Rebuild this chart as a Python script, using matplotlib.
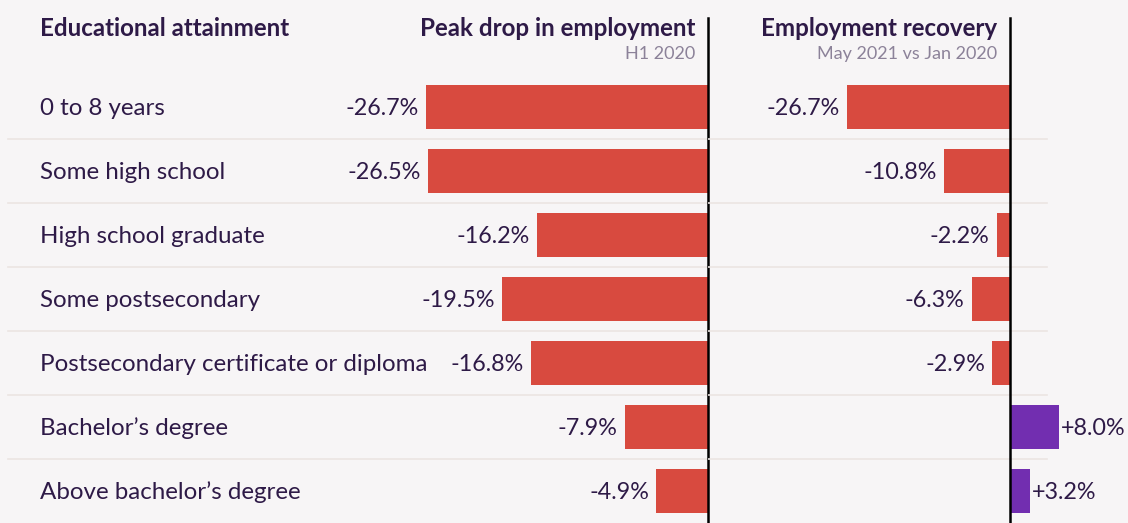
import matplotlib.pyplot as plt

categories = ["0 to 8 years", "Some high school", "High school graduate",
              "Some postsecondary", "Postsecondary certificate or diploma",
              "Bachelor\u2019s degree", "Above bachelor\u2019s degree"]
peak_drop = [-26.7, -26.5, -16.2, -19.5, -16.8, -7.9, -4.9]
recovery = [-26.7, -10.8, -2.2, -6.3, -2.9, 8.0, 3.2]

BG = "#f7f5f6"
TXT = "#2e1a47"
GREY = "#8c8299"
RED = "#d84a3f"
PURPLE = "#722eb0"
SEP = "#ebe5e2"

plt.rcParams["font.family"] = ["Lato", "DejaVu Sans"]

W, H = 1128, 523
fig = plt.figure(figsize=(W / 100, H / 100), dpi=100, facecolor=BG)

def px(x0, y0, w, h):
    return [x0 / W, 1 - (y0 + h) / H, w / W, h / H]

ax1 = fig.add_axes(px(0, 75, 708, 448))
ax2 = fig.add_axes(px(708, 75, 420, 448))

rows = list(range(len(categories)))

for ax in (ax1, ax2):
    ax.set_facecolor("none")
    ax.set_ylim(len(categories) - 0.5, -0.5)
    ax.axis("off")

ax1.set_xlim(-67.05, 0)
ax2.set_xlim(-49.5, 19.34)

for i in rows[:-1]:
    ax1.axhline(i + 0.5, xmin=8 / 708, xmax=1, color=SEP, lw=1.2, zorder=0)
    ax2.axhline(i + 0.5, xmin=0, xmax=(1047 - 708) / 420, color=SEP, lw=1.2, zorder=0)

ax1.barh(rows, peak_drop, height=0.7, color=RED, zorder=2)
ax2.barh(rows, recovery, height=0.7,
         color=[RED if v < 0 else PURPLE for v in recovery], zorder=2)

LBL = 16.8
for i, v in zip(rows, peak_drop):
    ax1.annotate(f"{v:.1f}%", (v, i), xytext=(-5, -1), textcoords="offset points",
                 ha="right", va="center", fontsize=LBL, color=TXT)
for i, v in zip(rows, recovery):
    if v < 0:
        ax2.annotate(f"{v:.1f}%", (v, i), xytext=(-5, -1), textcoords="offset points",
                     ha="right", va="center", fontsize=LBL, color=TXT)
    else:
        ax2.annotate(f"+{v:.1f}%", (v, i), xytext=(1.5, -1), textcoords="offset points",
                     ha="left", va="center", fontsize=LBL, color=TXT)

for i, c in zip(rows, categories):
    ax1.annotate(c, (40 / 708 * 67.05 - 67.05, i), xytext=(0, -1),
                 textcoords="offset points", ha="left", va="center",
                 fontsize=17.4, color=TXT)

# vertical zero lines running up into the header
for ax in (ax1, ax2):
    ax.axvline(0, ymin=-0.05, ymax=(523 - 18) / 448, color="black", lw=1.8,
               clip_on=False, zorder=3)

fig.text(40 / W, 1 - 28 / H, "Educational attainment", ha="left", va="center",
         fontsize=17.4, fontweight="bold", color=TXT)
fig.text(695 / W, 1 - 28 / H, "Peak drop in employment", ha="right", va="center",
         fontsize=17.4, fontweight="bold", color=TXT)
fig.text(695 / W, 1 - 54 / H, "H1 2020", ha="right", va="center",
         fontsize=13, color=GREY)
fig.text(997 / W, 1 - 28 / H, "Employment recovery", ha="right", va="center",
         fontsize=17.4, fontweight="bold", color=TXT)
fig.text(997 / W, 1 - 54 / H, "May 2021 vs Jan 2020", ha="right", va="center",
         fontsize=13, color=GREY)

fig.savefig("out.png", dpi=100, facecolor=BG)
